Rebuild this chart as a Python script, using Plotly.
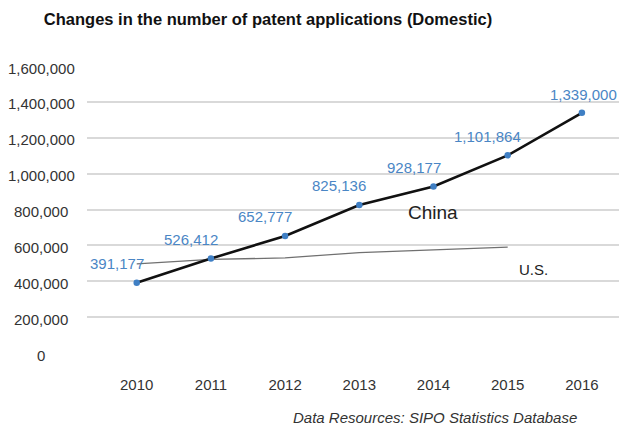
import plotly.graph_objects as go

years = [2010, 2011, 2012, 2013, 2014, 2015, 2016]
china = [391177, 526412, 652777, 825136, 928177, 1101864, 1339000]
china_labels = ["391,177", "526,412", "652,777", "825,136", "928,177", "1,101,864", "1,339,000"]
us_years = [2010, 2011, 2012, 2013, 2014, 2015]
us = [497000, 522000, 530000, 560000, 575000, 590000]
y_ticks = [0, 200000, 400000, 600000, 800000, 1000000, 1200000, 1400000, 1600000]
y_tick_labels = ["0", "200,000", "400,000", "600,000", "800,000", "1,000,000", "1,200,000", "1,400,000", "1,600,000"]
x_tick_labels = ["2010", "2011", "2012", "2013", "2014", "2015", "2016"]

FONT = "Liberation Sans, Arial, sans-serif"
BLUE = "#4a86c5"

W, H = 619, 418
ML, MR, MT, MB = 79, 0, 58, 73
PW, PH = W - ML - MR, H - MT - MB

fig = go.Figure()
fig.add_trace(go.Scatter(x=us_years, y=us, mode="lines",
                         line=dict(color="#707070", width=1.3), hoverinfo="skip"))
fig.add_trace(go.Scatter(x=years, y=china, mode="lines+markers",
                         line=dict(color="#111111", width=2.6),
                         marker=dict(color="#3f7fc4", size=6.5)))

annotations = []
for i, (xv, yv, t) in enumerate(zip(years, china, china_labels)):
    last = i == len(years) - 1
    annotations.append(dict(x=xv, y=yv, xref="x", yref="y", text=t, showarrow=False,
                            xanchor="center", yanchor="middle",
                            xshift=2 if last else -20, yshift=18 if last else 19,
                            font=dict(family=FONT, size=15, color=BLUE)))
for v, t in zip(y_ticks, y_tick_labels):
    annotations.append(dict(x=(33 - ML) / PW, y=v, xref="paper", yref="y", text=t, showarrow=False,
                            xanchor="center", yanchor="middle", yshift=-2,
                            font=dict(family=FONT, size=15, color="#333333")))
annotations.append(dict(x=2014, y=china[4], xref="x", yref="y", text="China", showarrow=False,
                        xanchor="center", yanchor="middle", xshift=-1, yshift=-26,
                        font=dict(family=FONT, size=19, color="#222222")))
annotations.append(dict(x=us_years[-1], y=us[-1], xref="x", yref="y", text="U.S.", showarrow=False,
                        xanchor="center", yanchor="middle", xshift=26, yshift=-22,
                        font=dict(family=FONT, size=15, color="#222222")))
annotations.append(dict(x=(426.5 - ML) / PW, y=(MT + PH - 409) / PH, xref="paper", yref="paper",
                        text="<i>Data Resources: SIPO Statistics Database</i>", showarrow=False,
                        xanchor="center", yanchor="middle",
                        font=dict(family=FONT, size=15, color="#333333")))

fig.update_layout(
    width=W, height=H,
    margin=dict(l=ML, r=MR, t=MT, b=MB),
    paper_bgcolor="white", plot_bgcolor="white",
    showlegend=False,
    title=dict(text="<b>Changes in the number of patent applications (Domestic)</b>",
               x=260 / W, xanchor="center", xref="container",
               y=1 - 11 / H, yanchor="middle", yref="container",
               font=dict(family=FONT, size=16.5, color="#111111")),
    xaxis=dict(range=[2009.33, 2016.608], tickvals=years, ticktext=x_tick_labels,
               showgrid=False, zeroline=False, showline=False, ticks="",
               ticklabelstandoff=21,
               tickfont=dict(family=FONT, size=15, color="#333333")),
    yaxis=dict(range=[0, 1600000], tickvals=y_ticks, showticklabels=False,
               showgrid=True, gridcolor="#d9d9d9", gridwidth=1.5,
               zeroline=False, showline=False, ticks=""),
    annotations=annotations,
)

fig.write_html("out.html")
